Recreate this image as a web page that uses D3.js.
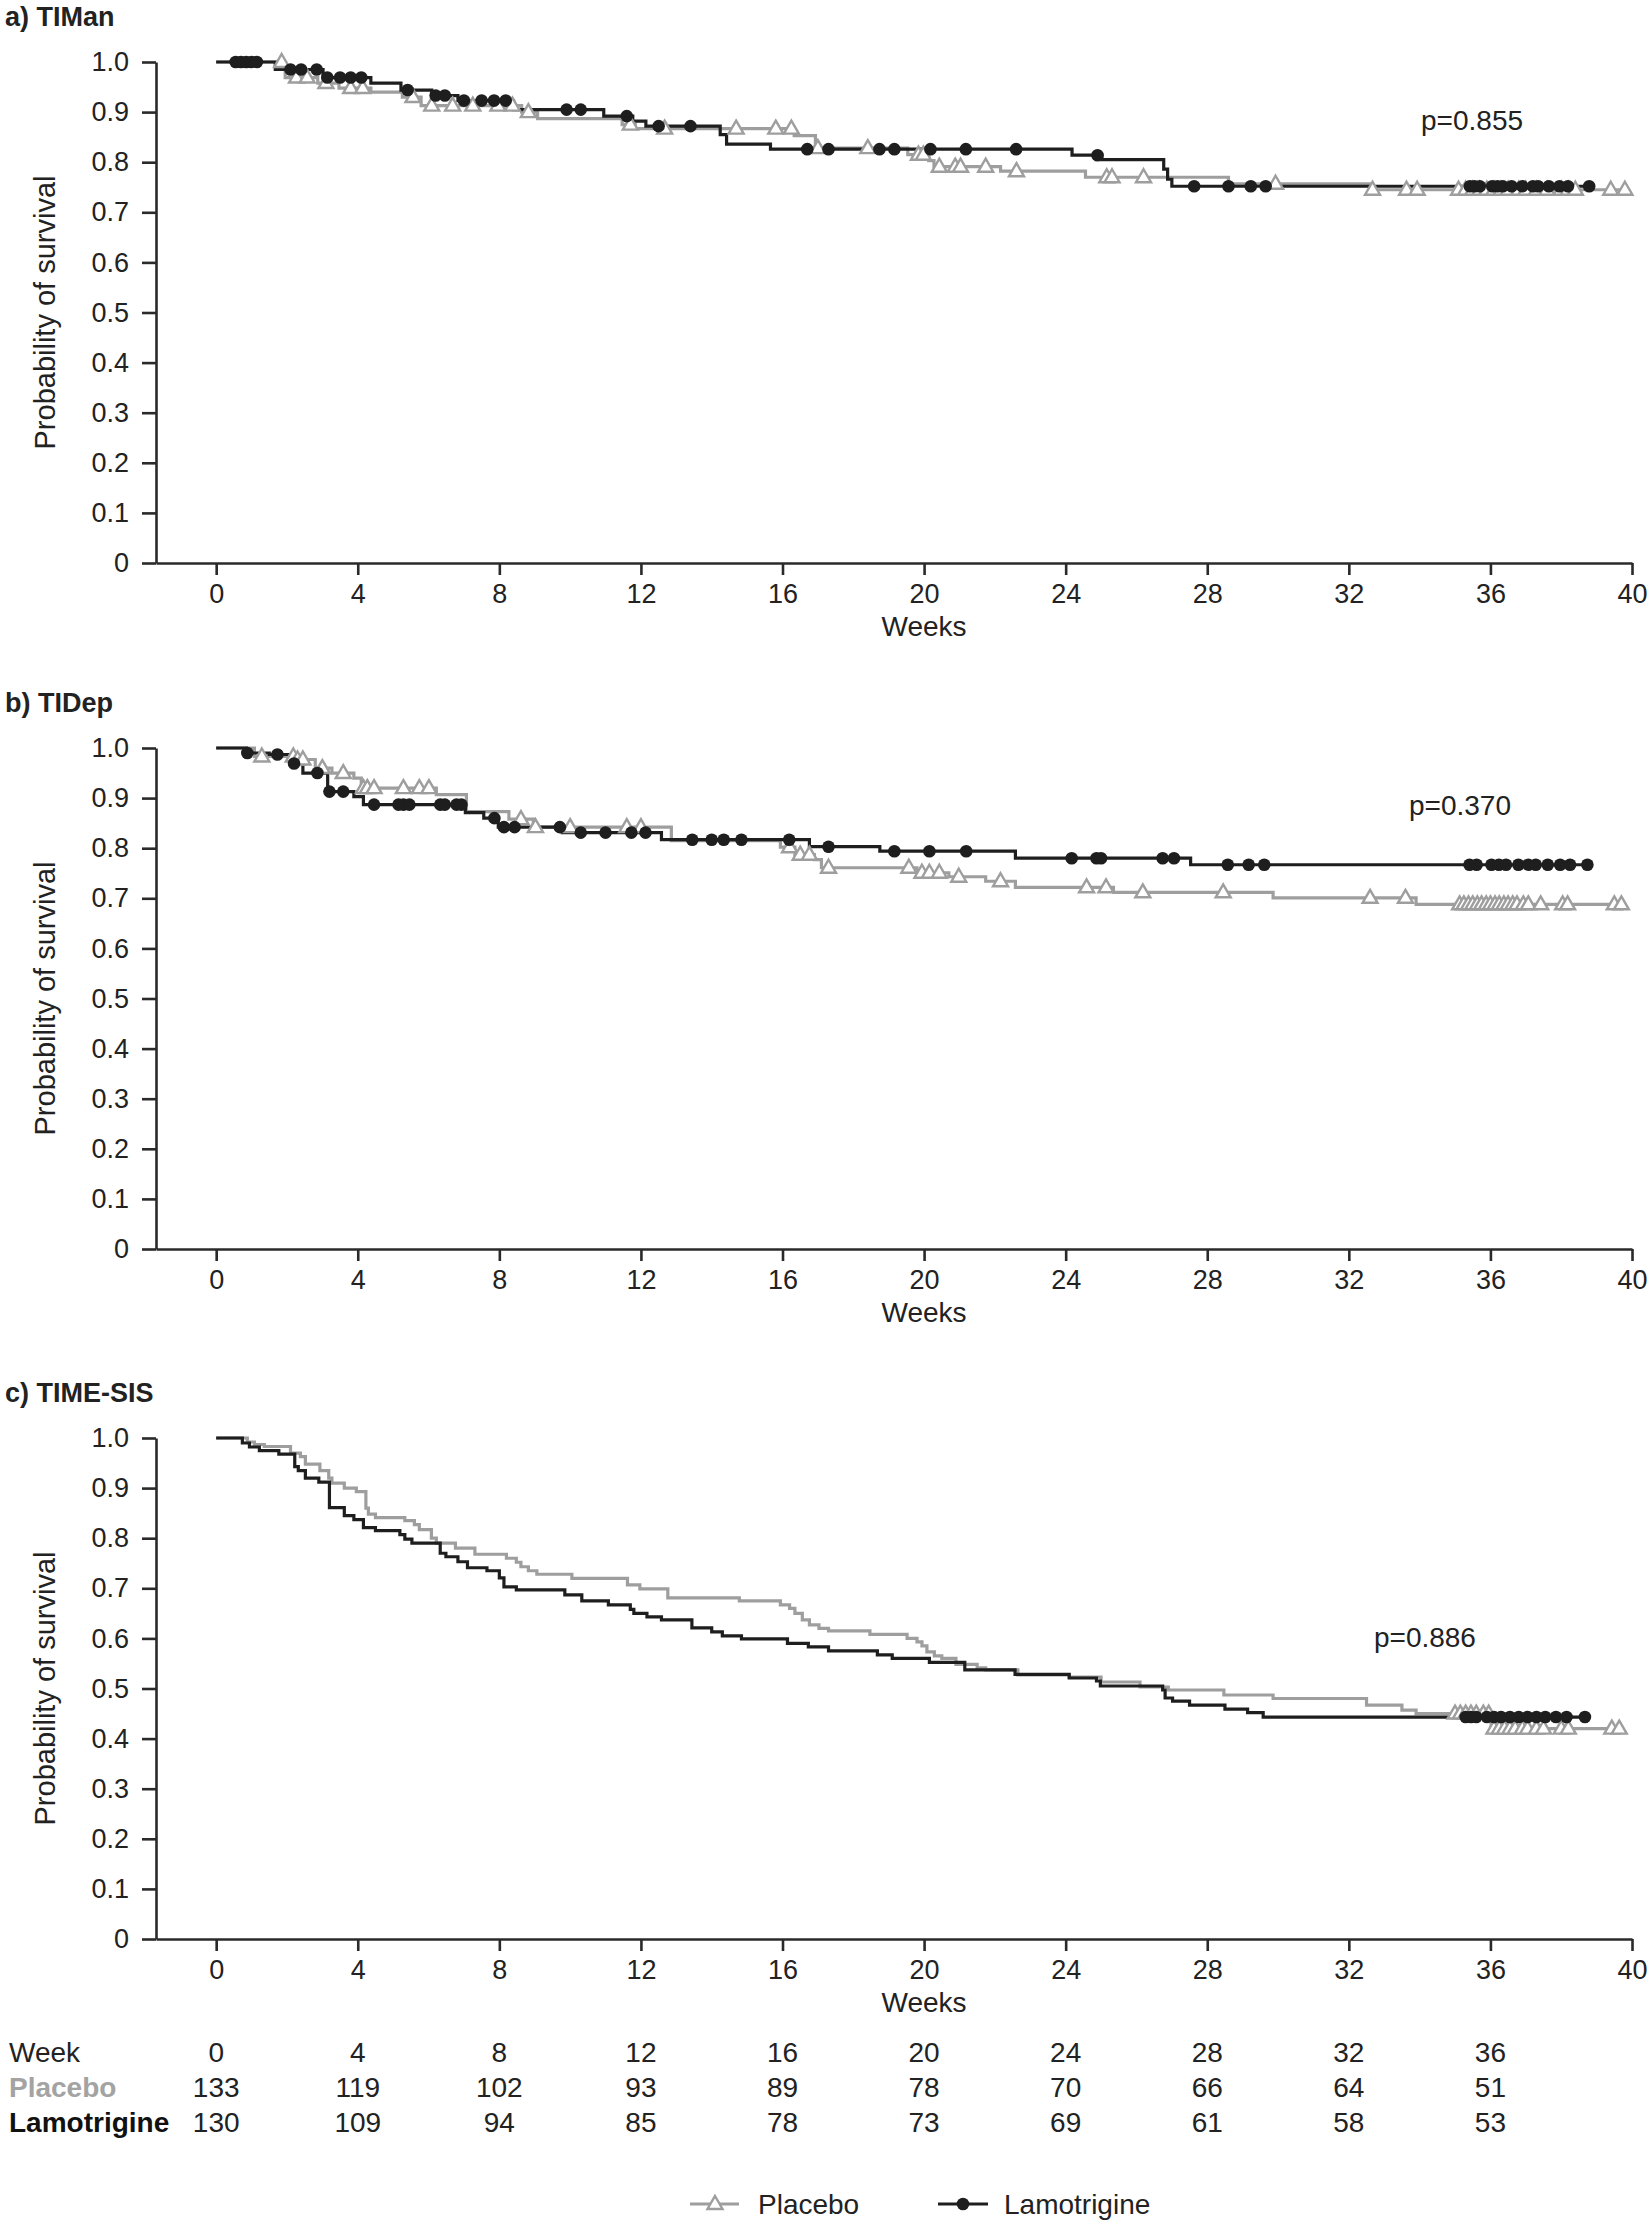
<!DOCTYPE html>
<html><head><meta charset="utf-8">
<script src="https://cdn.jsdelivr.net/npm/d3@7"></script>
<style>
body{margin:0;background:#fff}
svg{display:block}
text{font-family:"Liberation Sans",Arial,Helvetica,sans-serif}
</style>
</head><body>
<svg id="chart" width="1652" height="2224"></svg>
<script>
// ---------------- DATA ----------------
const weekTicks = [0,4,8,12,16,20,24,28,32,36,40];
const probTicks = [0,0.1,0.2,0.3,0.4,0.5,0.6,0.7,0.8,0.9,1.0];
const panelTitles = ["a) TIMan","b) TIDep","c) TIME-SIS"];
const pValueLabels = ["p=0.855","p=0.370","p=0.886"];
const pValueWeek = [34.04, 33.7, 32.71];
const pValueProb = [0.864, 0.866, 0.583];
const groupNames = ["Placebo","Lamotrigine"];

// Panel a) TIMan
const aPlaceboTimes = [0,1.95,2.87,3.47,4.37,5.26,5.79,8.63,9.08,11.47,11.84,16.33,16.93,19.54,20.13,20.28,22.16,24.56,28.6,32.59];
const aPlaceboSurv  = [1.0,0.969,0.958,0.948,0.94,0.93,0.913,0.9,0.887,0.875,0.867,0.853,0.828,0.815,0.803,0.791,0.782,0.77,0.757,0.745];
const aPlaceboCens  = [1.85,2.27,2.57,3.1,3.8,4.14,5.56,6.09,6.68,7.25,7.96,8.37,8.82,11.7,12.67,14.69,15.81,16.25,17.0,18.41,19.84,19.98,20.43,20.88,21.03,21.74,22.61,25.16,25.31,26.2,29.93,32.67,33.63,33.93,35.1,35.3,35.5,35.7,35.9,36.1,36.3,36.5,36.8,37.0,37.3,37.6,38.0,38.2,38.4,39.4,39.8];
const aLamoTimes = [0,1.67,3.02,4.37,5.22,6.09,6.83,8.4,10.95,11.77,12.14,14.24,14.42,15.66,24.18,25.02,26.77,26.88,27.0];
const aLamoSurv  = [1.0,0.985,0.969,0.958,0.944,0.933,0.923,0.905,0.892,0.882,0.872,0.855,0.836,0.826,0.814,0.805,0.786,0.766,0.752];
const aLamoCens  = [0.55,0.7,0.85,1.0,1.15,2.1,2.4,2.84,3.14,3.5,3.8,4.1,5.41,6.2,6.46,7.0,7.5,7.85,8.18,9.9,10.3,11.6,12.5,13.4,16.7,17.3,18.74,19.16,20.18,21.18,22.6,24.9,27.63,28.6,29.23,29.65,35.42,35.55,35.7,36.05,36.2,36.35,36.6,36.9,37.2,37.35,37.65,37.95,38.19,38.79];

// Panel b) TIDep
const bPlaceboTimes = [0,1.08,2.25,2.8,3.27,3.89,4.1,6.22,7.07,8.27,8.96,12.86,15.94,16.35,16.9,17.1,19.8,20.7,21.74,22.58,25.35,29.86,33.9];
const bPlaceboSurv  = [1.0,0.983,0.977,0.96,0.95,0.94,0.92,0.907,0.873,0.858,0.842,0.815,0.802,0.787,0.777,0.761,0.751,0.743,0.734,0.722,0.712,0.701,0.688];
const bPlaceboCens  = [1.29,2.18,2.3,2.45,3.0,3.59,4.16,4.27,4.46,5.29,5.74,6.01,8.61,9.02,10.0,11.6,12.0,16.2,16.5,16.76,17.3,19.57,19.94,20.15,20.43,20.98,22.16,24.59,25.14,26.18,28.45,32.6,33.6,35.13,35.25,35.38,35.5,35.63,35.75,35.88,36.0,36.13,36.25,36.38,36.5,36.63,36.75,36.93,37.07,37.42,38.04,38.18,39.5,39.7];
const bLamoTimes = [0,0.85,1.5,2.15,2.45,3.15,3.89,4.16,7.04,7.56,7.97,9.78,12.58,16.76,18.75,22.58,27.53];
const bLamoSurv  = [1.0,0.99,0.987,0.969,0.95,0.913,0.903,0.887,0.871,0.86,0.842,0.831,0.817,0.803,0.794,0.78,0.767];
const bLamoCens  = [0.88,1.73,2.2,2.86,3.2,3.59,4.46,5.15,5.29,5.46,6.33,6.46,6.79,6.93,7.86,8.13,8.43,9.71,10.3,11.0,11.73,12.13,13.45,14.0,14.34,14.84,16.19,17.3,19.16,20.15,21.19,24.17,24.87,25.0,26.74,27.06,28.58,29.17,29.61,35.41,35.61,36.03,36.24,36.44,36.79,37.07,37.28,37.62,37.97,38.25,38.74];

// Panel c) TIME-SIS
const cPlaceboTimes = [0,0.88,1.08,1.36,2.1,2.38,2.52,2.93,3.18,3.27,3.62,3.96,4.23,4.3,4.5,5.33,5.6,5.74,6.08,6.22,6.76,7.31,8.2,8.48,8.61,8.82,9.06,10.05,11.62,11.97,12.76,14.78,15.94,16.2,16.35,16.56,16.76,17.03,17.3,18.47,19.52,19.8,19.94,20.08,20.29,20.5,20.9,21.5,21.74,22.65,24.1,25.0,26.1,26.9,28.47,29.86,32.5,33.5,33.9,36.02];
const cPlaceboSurv  = [1.0,0.992,0.987,0.983,0.97,0.963,0.948,0.935,0.92,0.91,0.9,0.893,0.86,0.848,0.841,0.835,0.827,0.817,0.8,0.79,0.78,0.768,0.76,0.752,0.743,0.735,0.728,0.72,0.707,0.699,0.681,0.675,0.667,0.66,0.65,0.637,0.627,0.62,0.615,0.608,0.6,0.593,0.585,0.573,0.565,0.56,0.548,0.541,0.537,0.527,0.523,0.513,0.503,0.497,0.487,0.48,0.467,0.457,0.45,0.42];
const cPlaceboCens  = [35.0,35.15,35.3,35.45,35.6,35.8,35.95,36.1,36.25,36.4,36.55,36.7,36.9,37.05,37.3,37.5,38.0,38.2,39.43,39.64];
const cLamoTimes = [0,0.74,0.94,1.22,1.77,2.22,2.32,2.52,2.9,3.2,3.62,3.89,4.16,4.5,5.19,5.33,5.53,6.33,6.49,6.83,7.1,7.65,8.0,8.13,8.48,9.85,10.33,11.08,11.7,11.8,12.17,12.58,13.44,14.0,14.3,14.84,16.14,16.73,17.3,18.68,19.1,20.15,21.15,22.57,24.1,24.87,24.98,26.74,26.81,27.02,27.5,28.5,29.14,29.58];
const cLamoSurv  = [1.0,0.99,0.982,0.975,0.968,0.943,0.935,0.92,0.912,0.861,0.845,0.837,0.821,0.815,0.807,0.798,0.79,0.77,0.763,0.753,0.741,0.735,0.721,0.703,0.697,0.687,0.675,0.667,0.658,0.65,0.643,0.637,0.621,0.613,0.605,0.599,0.59,0.583,0.575,0.567,0.56,0.552,0.537,0.528,0.521,0.515,0.505,0.497,0.481,0.475,0.467,0.459,0.452,0.443];
const cLamoCens  = [35.3,35.45,35.6,35.9,36.1,36.3,36.55,36.8,37.05,37.3,37.55,37.85,38.15,38.67];

// Number at risk (TIME-SIS)
const riskWeeks = [0,4,8,12,16,20,24,28,32,36];
const riskPlacebo = [133,119,102,93,89,78,70,66,64,51];
const riskLamotrigine = [130,109,94,85,78,73,69,61,58,53];

// ---------------- DRAWING ----------------
const panels = [
  {title:panelTitles[0], p:pValueLabels[0], pw:pValueWeek[0], pp:pValueProb[0],
   placebo:{t:aPlaceboTimes,s:aPlaceboSurv,c:aPlaceboCens}, lamo:{t:aLamoTimes,s:aLamoSurv,c:aLamoCens}},
  {title:panelTitles[1], p:pValueLabels[1], pw:pValueWeek[1], pp:pValueProb[1],
   placebo:{t:bPlaceboTimes,s:bPlaceboSurv,c:bPlaceboCens}, lamo:{t:bLamoTimes,s:bLamoSurv,c:bLamoCens}},
  {title:panelTitles[2], p:pValueLabels[2], pw:pValueWeek[2], pp:pValueProb[2],
   placebo:{t:cPlaceboTimes,s:cPlaceboSurv,c:cPlaceboCens}, lamo:{t:cLamoTimes,s:cLamoSurv,c:cLamoCens}}
];

const GRAY = "#9e9e9e", BLACK = "#1e1e1e", AXIS = "#2a2a2a", TXT = "#222";
const panelTops = [62, 748, 1438];
const plotH = 501;
const x = d3.scaleLinear().domain([-1.7, 40]).range([156, 1632]);

const svg = d3.select("#chart");
const triPath = "M0,-8 L7.5,5 L-7.5,5 Z";

function survAt(times, surv, t){
  let i = d3.bisectRight(times, t) - 1;
  if (i < 0) i = 0;
  return surv[i];
}

panels.forEach((P, k) => {
  const top = panelTops[k];
  const y = d3.scaleLinear().domain([0,1]).range([top+plotH, top]);
  const g = svg.append("g");

  // title
  g.append("text").attr("x", 5).attr("y", top - 36)
    .attr("font-size", 27).attr("font-weight", "bold").attr("fill", TXT).text(P.title);

  // y axis
  const ya = g.append("g").attr("transform", `translate(${x(-1.7)},0)`)
    .call(d3.axisLeft(y).tickValues(probTicks).tickSize(14).tickSizeOuter(0).tickPadding(13)
      .tickFormat(d => d === 0 ? "0" : d3.format(".1f")(d)));
  // x axis
  const xa = g.append("g").attr("transform", `translate(0,${y(0)})`)
    .call(d3.axisBottom(x).tickValues(weekTicks).tickSize(12).tickSizeOuter(0).tickPadding(9));
  [ya, xa].forEach(a => {
    a.selectAll("path.domain").attr("stroke", AXIS).attr("stroke-width", 2.6);
    a.selectAll(".tick line").attr("stroke", AXIS).attr("stroke-width", 2.6);
    a.selectAll("text").attr("font-size", 27).attr("fill", TXT)
      .attr("font-family", '"Liberation Sans",Arial,sans-serif');
  });

  // axis titles
  g.append("text").attr("transform", `translate(45,${(y(0)+y(1))/2}) rotate(-90)`)
    .attr("text-anchor", "middle").attr("dominant-baseline", "central")
    .attr("font-size", 29).attr("fill", TXT).text("Probability of survival");
  g.append("text").attr("x", x(20)).attr("y", y(0) + 73)
    .attr("text-anchor", "middle").attr("font-size", 28).attr("fill", TXT).text("Weeks");

  // curves
  const line = d3.line().x(d => x(d[0])).y(d => y(d[1])).curve(d3.curveStepAfter);
  function pts(G){
    const a = G.t.map((t,i) => [t, G.s[i]]);
    const end = Math.max(d3.max(G.c), d3.max(G.t));
    a.push([end, G.s[G.s.length-1]]);
    return a;
  }
  g.append("path").datum(pts(P.placebo)).attr("d", line)
    .attr("fill", "none").attr("stroke", GRAY).attr("stroke-width", 3.2);
  g.append("path").datum(pts(P.lamo)).attr("d", line)
    .attr("fill", "none").attr("stroke", BLACK).attr("stroke-width", 3.2);

  // censor marks
  g.selectAll(".tri").data(P.placebo.c).join("path").attr("class","tri")
    .attr("d", triPath)
    .attr("transform", d => `translate(${x(d)},${y(survAt(P.placebo.t, P.placebo.s, d))})`)
    .attr("fill", "#fff").attr("stroke", GRAY).attr("stroke-width", 2.4);
  g.selectAll(".dot").data(P.lamo.c).join("circle").attr("class","dot")
    .attr("cx", d => x(d)).attr("cy", d => y(survAt(P.lamo.t, P.lamo.s, d)))
    .attr("r", 6.3).attr("fill", BLACK);

  // p-value
  g.append("text").attr("x", x(P.pw)).attr("y", y(P.pp))
    .attr("font-size", 28).attr("fill", TXT).text(P.p);
});

// Number-at-risk table
const rows = [
  {label:"Week", vals:riskWeeks, color:TXT, weight:"normal", y:2062},
  {label:groupNames[0], vals:riskPlacebo, color:"#a3a3a3", weight:"bold", y:2097},
  {label:groupNames[1], vals:riskLamotrigine, color:"#111", weight:"bold", y:2132}
];
rows.forEach(r => {
  svg.append("text").attr("x", 9).attr("y", r.y).attr("font-size", 28)
    .attr("font-weight", r.weight).attr("fill", r.color).text(r.label);
  svg.append("g").selectAll("text").data(r.vals).join("text")
    .attr("x", (d,i) => x(riskWeeks[i])).attr("y", r.y)
    .attr("text-anchor", "middle").attr("font-size", 28).attr("fill", TXT).text(d => d);
});

// Legend
const leg = svg.append("g").attr("transform", "translate(0,2204)");
leg.append("line").attr("x1", 690).attr("x2", 739).attr("stroke", GRAY).attr("stroke-width", 3.2);
leg.append("path").attr("d", triPath).attr("transform", "translate(715,0)")
  .attr("fill", "#fff").attr("stroke", GRAY).attr("stroke-width", 2.4);
leg.append("text").attr("x", 758).attr("y", 10).attr("font-size", 28).attr("fill", TXT).text(groupNames[0]);
leg.append("line").attr("x1", 938).attr("x2", 988).attr("stroke", BLACK).attr("stroke-width", 3.2);
leg.append("circle").attr("cx", 963).attr("cy", 0).attr("r", 6.3).attr("fill", BLACK);
leg.append("text").attr("x", 1004).attr("y", 10).attr("font-size", 28).attr("fill", TXT).text(groupNames[1]);
</script>
</body></html>
